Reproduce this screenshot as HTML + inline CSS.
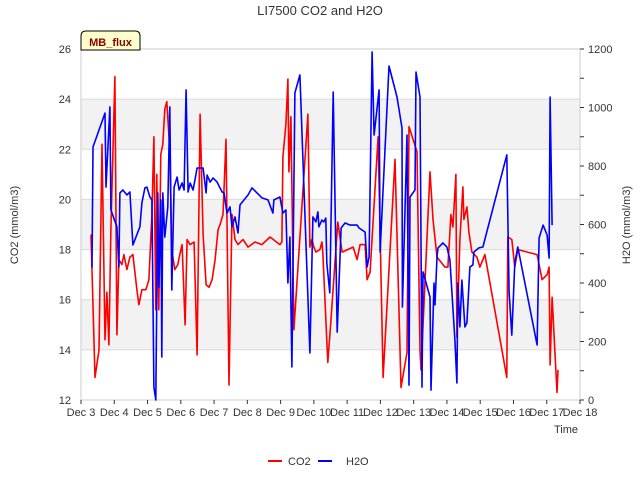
<!DOCTYPE html>
<html><head><meta charset="utf-8"><style>
body{margin:0;background:#fff;font-family:"Liberation Sans",sans-serif}
svg text{font-family:"Liberation Sans",sans-serif}
</style></head><body>
<svg id="c" width="640" height="480" xmlns="http://www.w3.org/2000/svg">
<text x="320" y="15" text-anchor="middle" font-size="13" fill="#333">LI7500 CO2 and H2O</text>
<g id="bands"></g><g id="axes"></g><g id="series"></g>
<g>
<path d="M81,50 L81,36 Q81,31 86,31 L135,31 Q140,31 140,36 L140,50 Z" fill="#ffffcc" stroke="#000" stroke-width="1"/>
<text x="110.5" y="46" text-anchor="middle" font-size="11" font-weight="bold" fill="#8b0000">MB_flux</text></g>
<text transform="translate(18,225) rotate(-90)" text-anchor="middle" font-size="11" fill="#333">CO2 (mmol/m3)</text>
<text transform="translate(630,225) rotate(-90)" text-anchor="middle" font-size="11" fill="#333">H2O (mmol/m3)</text>
<text x="566" y="433" text-anchor="middle" font-size="11" fill="#333">Time</text>
<g>
<line x1="268" y1="461" x2="282" y2="461" stroke="#f00" stroke-width="2"/><text x="288" y="465" font-size="11" fill="#333">CO2</text>
<line x1="318" y1="461" x2="332" y2="461" stroke="#00f" stroke-width="2"/><text x="346" y="465" font-size="11" fill="#333">H2O</text></g>
</svg>
<script>
const xTicks=["Dec 3","Dec 4","Dec 5","Dec 6","Dec 7","Dec 8","Dec 9","Dec 10","Dec 11","Dec 12","Dec 13","Dec 14","Dec 15","Dec 16","Dec 17","Dec 18"];
const leftTicks=[12,14,16,18,20,22,24,26];
const rightTicks=[0,200,400,600,800,1000,1200];
const co2Days=[0.30,0.42,0.54,0.63,0.72,0.78,0.84,0.90,1.02,1.08,1.14,1.23,1.29,1.38,1.47,1.56,1.68,1.74,1.83,1.95,2.04,2.13,2.19,2.25,2.28,2.34,2.40,2.46,2.52,2.58,2.67,2.73,2.82,2.91,2.97,3.04,3.13,3.19,3.28,3.40,3.49,3.58,3.67,3.76,3.85,3.94,4.03,4.12,4.18,4.27,4.36,4.45,4.54,4.63,4.72,4.87,5.02,5.23,5.44,5.68,5.98,6.04,6.07,6.16,6.22,6.25,6.31,6.34,6.40,6.82,6.88,6.94,7.00,7.06,7.18,7.24,7.27,7.42,7.51,7.72,7.85,8.18,8.30,8.39,8.54,8.60,8.69,8.93,9.08,9.44,9.62,9.80,9.86,10.10,10.19,10.22,10.49,10.58,10.70,10.94,11.03,11.12,11.18,11.27,11.30,11.39,11.48,11.51,11.60,11.66,11.75,11.90,11.99,12.14,12.80,12.83,12.95,13.04,13.13,13.71,13.86,14.01,14.07,14.10,14.16,14.31,14.34];
const co2Vals=[18.6,12.9,14.0,22.2,14.4,16.3,14.2,18.8,24.9,14.6,17.6,17.4,17.8,17.2,17.7,17.8,16.4,15.8,16.4,16.4,16.8,19.4,22.5,15.6,21.0,15.6,21.8,22.2,23.6,23.9,22.0,18.0,17.2,17.4,17.8,18.2,15.0,18.4,18.2,18.3,13.8,23.4,18.6,16.6,16.5,16.8,17.6,18.8,19.0,19.4,22.4,12.6,19.4,18.4,18.2,18.4,18.1,18.3,18.2,18.5,18.2,18.3,21.7,23.0,24.8,21.1,23.3,20.5,14.8,23.4,18.1,18.4,18.1,17.9,18.0,18.3,17.9,13.5,15.1,19.1,17.9,18.1,17.6,18.2,18.2,16.8,17.1,22.5,12.9,21.6,12.5,13.9,22.9,21.9,14.0,13.2,21.1,19.2,17.7,17.3,17.3,19.4,18.9,21.0,14.5,18.4,20.5,19.2,19.7,18.7,17.9,17.7,17.3,17.8,12.9,18.5,18.4,17.3,18.0,17.8,16.8,17.0,17.3,13.4,16.1,12.3,13.2];
const h2oDays=[0.33,0.36,0.72,0.75,0.87,0.90,1.08,1.14,1.17,1.26,1.38,1.47,1.56,1.77,1.83,1.92,1.98,2.07,2.13,2.19,2.25,2.31,2.34,2.40,2.43,2.46,2.52,2.61,2.67,2.73,2.80,2.89,2.95,3.04,3.10,3.16,3.22,3.28,3.37,3.49,3.67,3.76,3.79,3.88,3.97,4.09,4.24,4.30,4.39,4.48,4.54,4.63,4.72,4.78,5.02,5.14,5.29,5.44,5.62,5.77,5.80,5.98,6.07,6.16,6.22,6.28,6.34,6.43,6.58,6.88,6.97,7.06,7.12,7.15,7.24,7.30,7.36,7.39,7.48,7.58,7.70,7.82,7.94,8.09,8.30,8.36,8.54,8.60,8.66,8.75,8.81,8.96,8.99,9.26,9.50,9.65,9.66,9.80,9.86,9.89,10.04,10.07,10.19,10.25,10.28,10.49,10.52,10.61,10.64,10.70,10.73,10.88,11.00,11.09,11.24,11.30,11.33,11.39,11.45,11.54,11.60,11.69,11.78,11.81,11.96,12.08,12.80,12.87,12.95,13.04,13.13,13.71,13.77,13.89,14.01,14.07,14.10,14.16];
const h2oVals=[453,865,981,728,1002,650,592,455,708,718,701,711,530,592,674,725,728,694,684,44,0,708,386,684,147,708,557,660,1002,376,728,762,718,742,718,1060,711,742,718,793,793,708,769,745,759,745,711,708,639,660,592,626,571,667,701,725,708,691,684,639,684,694,639,650,400,557,113,1050,1111,161,626,609,643,592,615,609,622,468,366,1053,232,588,605,598,598,588,574,455,489,1190,906,1060,506,1142,1036,930,318,906,51,694,718,1121,1036,44,438,352,34,400,325,489,520,537,523,479,205,58,400,250,410,250,264,455,462,506,520,523,838,369,222,468,523,188,554,598,564,485,1036,598];
const L=81,R=580,T=49,B=400;
const xs=d=>L+d*(R-L)/15;
const yl=v=>B-(v-12)*(B-T)/14;
const yr=v=>B-v*(B-T)/1200;
const NS="http://www.w3.org/2000/svg";
function mk(tag,attrs,parent){const e=document.createElementNS(NS,tag);for(const k in attrs)e.setAttribute(k,attrs[k]);parent.appendChild(e);return e;}
const bands=document.getElementById('bands'),axes=document.getElementById('axes'),series=document.getElementById('series');
[[14,16],[18,20],[22,24]].forEach(b=>{const r=mk('rect',{x:L,y:yl(b[1]),width:R-L,height:yl(b[0])-yl(b[1]),fill:'#f2f2f2'},bands);

});
leftTicks.forEach(v=>{const g=mk('line',{x1:L,x2:R,y1:yl(v),y2:yl(v),stroke:'#dcdcdc','stroke-width':1},bands);


const t=mk('text',{x:L-10,y:yl(v)+4,'text-anchor':'end','font-size':11,fill:'#333'},axes);t.textContent=v;

});
const fr=mk('rect',{x:L,y:T,width:R-L,height:B-T,fill:'none',stroke:'#ccc'},axes);


rightTicks.forEach(v=>{mk('line',{x1:R,x2:R+4,y1:yr(v),y2:yr(v),stroke:'#333'},axes);
const t=mk('text',{x:R+8,y:yr(v)+4,'font-size':11,fill:'#333'},axes);t.textContent=v;

});
for(let v=100;v<1200;v+=200)mk('line',{x1:R,x2:R+4,y1:yr(v),y2:yr(v),stroke:'#333'},axes);
xTicks.forEach((s,i)=>{mk('line',{x1:xs(i),x2:xs(i),y1:B,y2:B+4,stroke:'#333'},axes);
const t=mk('text',{x:xs(i),y:B+16,'text-anchor':'middle','font-size':11,fill:'#333'},axes);t.textContent=s;

});
function line(days,vals,yf,color,name){const p=mk('polyline',{points:days.map((d,i)=>xs(d).toFixed(1)+','+yf(vals[i]).toFixed(1)).join(' '),fill:'none',stroke:color,'stroke-width':1.6,'stroke-linejoin':'round'},series);

}
line(co2Days,co2Vals,yl,'#ff0000','co2-line');
line(h2oDays,h2oVals,yr,'#0000ff','h2o-line');
</script>
</body></html>
